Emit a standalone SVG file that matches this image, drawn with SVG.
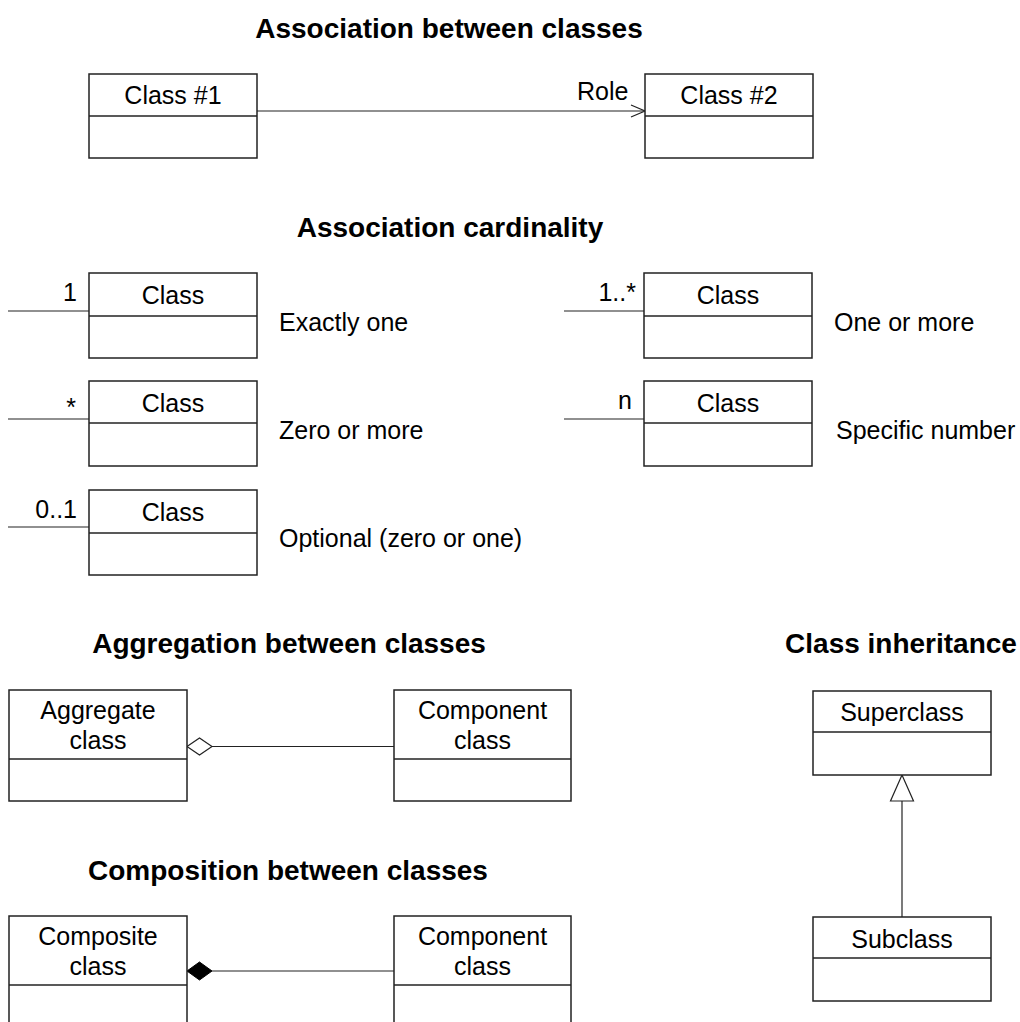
<svg xmlns="http://www.w3.org/2000/svg" width="1020" height="1022" viewBox="0 0 1020 1022">
<style>
  text { font-family: "Liberation Sans", Arial, sans-serif; fill: #000; }
  .t { font-size: 28px; font-weight: bold; text-anchor: middle; }
  .l { font-size: 25px; }
  .c { font-size: 25px; text-anchor: middle; }
  .r { font-size: 25px; text-anchor: end; }
  .box { fill: #fff; stroke: #222; stroke-width: 1.5; }
  .div { stroke: #222; stroke-width: 1.5; }
  .ln { stroke: #222; stroke-width: 1.2; fill: none; }
</style>
<defs>
  <marker id="open" viewBox="0 0 16 14" refX="15" refY="7" markerWidth="16" markerHeight="14" markerUnits="userSpaceOnUse" orient="auto">
    <path d="M1,1 L15,7 L1,13" fill="none" stroke="#222" stroke-width="1.2"/>
  </marker>
</defs>
<rect width="1020" height="1022" fill="#fff"/>

<g id="titles">
  <text class="t" x="449" y="38">Association between classes</text>
  <text class="t" x="450" y="237">Association cardinality</text>
  <text class="t" x="289" y="653">Aggregation between classes</text>
  <text class="t" x="901" y="653">Class inheritance</text>
  <text class="t" x="288" y="880">Composition between classes</text>
</g>

<g id="connectors">
  <line class="ln" x1="257" y1="111" x2="645" y2="111" marker-end="url(#open)"/>
  <text class="l" x="577" y="100">Role</text>
  <line class="ln" x1="8" y1="311" x2="89" y2="311"/>
  <text class="r" x="77" y="301">1</text>
  <line class="ln" x1="8" y1="419" x2="89" y2="419"/>
  <text class="r" x="76" y="416">*</text>
  <line class="ln" x1="8" y1="527" x2="89" y2="527"/>
  <text class="r" x="77" y="518">0..1</text>
  <line class="ln" x1="564" y1="311" x2="644" y2="311"/>
  <text class="r" x="636" y="301">1..*</text>
  <line class="ln" x1="564" y1="419" x2="644" y2="419"/>
  <text class="r" x="632" y="409">n</text>
  <line class="ln" x1="212" y1="746.5" x2="394" y2="746.5"/>
  <path d="M187,746.5 L199.5,738 L212,746.5 L199.5,755 Z" fill="#fff" stroke="#222" stroke-width="1.2"/>
  <line class="ln" x1="212" y1="971" x2="394" y2="971"/>
  <path d="M187,971 L199.5,962 L212,971 L199.5,980 Z" fill="#000" stroke="#000" stroke-width="1"/>
  <line class="ln" x1="902" y1="801" x2="902" y2="917"/>
  <path d="M902,775 L913.5,801 L890.5,801 Z" fill="#fff" stroke="#222" stroke-width="1.2"/>
</g>

<g id="class1">
  <rect class="box" x="89" y="74" width="168" height="84"/>
  <line class="div" x1="89" y1="116" x2="257" y2="116"/>
  <text class="c" x="173" y="104">Class #1</text>
</g>
<g id="class2">
  <rect class="box" x="645" y="74" width="168" height="84"/>
  <line class="div" x1="645" y1="116" x2="813" y2="116"/>
  <text class="c" x="729" y="104">Class #2</text>
</g>

<g id="card-one">
  <rect class="box" x="89" y="273" width="168" height="85"/>
  <line class="div" x1="89" y1="316" x2="257" y2="316"/>
  <text class="c" x="173" y="304">Class</text>
  <text class="l" x="279" y="331">Exactly one</text>
</g>
<g id="card-zero-more">
  <rect class="box" x="89" y="381" width="168" height="85"/>
  <line class="div" x1="89" y1="423" x2="257" y2="423"/>
  <text class="c" x="173" y="412">Class</text>
  <text class="l" x="279" y="439">Zero or more</text>
</g>
<g id="card-optional">
  <rect class="box" x="89" y="490" width="168" height="85"/>
  <line class="div" x1="89" y1="533" x2="257" y2="533"/>
  <text class="c" x="173" y="521">Class</text>
  <text class="l" x="279" y="547">Optional (zero or one)</text>
</g>
<g id="card-one-more">
  <rect class="box" x="644" y="273" width="168" height="85"/>
  <line class="div" x1="644" y1="316" x2="812" y2="316"/>
  <text class="c" x="728" y="304">Class</text>
  <text class="l" x="834" y="331">One or more</text>
</g>
<g id="card-specific">
  <rect class="box" x="644" y="381" width="168" height="85"/>
  <line class="div" x1="644" y1="423" x2="812" y2="423"/>
  <text class="c" x="728" y="412">Class</text>
  <text class="l" x="836" y="439">Specific number</text>
</g>

<g id="aggregate">
  <rect class="box" x="9" y="690" width="178" height="111"/>
  <line class="div" x1="9" y1="759" x2="187" y2="759"/>
  <text class="c" x="98" y="719">Aggregate</text>
  <text class="c" x="98" y="749">class</text>
</g>
<g id="agg-component">
  <rect class="box" x="394" y="690" width="177" height="111"/>
  <line class="div" x1="394" y1="759" x2="571" y2="759"/>
  <text class="c" x="482.5" y="719">Component</text>
  <text class="c" x="482.5" y="749">class</text>
</g>

<g id="composite">
  <rect class="box" x="9" y="916" width="178" height="120"/>
  <line class="div" x1="9" y1="985" x2="187" y2="985"/>
  <text class="c" x="98" y="945">Composite</text>
  <text class="c" x="98" y="975">class</text>
</g>
<g id="comp-component">
  <rect class="box" x="394" y="916" width="177" height="120"/>
  <line class="div" x1="394" y1="985" x2="571" y2="985"/>
  <text class="c" x="482.5" y="945">Component</text>
  <text class="c" x="482.5" y="975">class</text>
</g>

<g id="superclass">
  <rect class="box" x="813" y="691" width="178" height="84"/>
  <line class="div" x1="813" y1="732" x2="991" y2="732"/>
  <text class="c" x="902" y="721">Superclass</text>
</g>
<g id="subclass">
  <rect class="box" x="813" y="917" width="178" height="84"/>
  <line class="div" x1="813" y1="958" x2="991" y2="958"/>
  <text class="c" x="902" y="948">Subclass</text>
</g>
</svg>
